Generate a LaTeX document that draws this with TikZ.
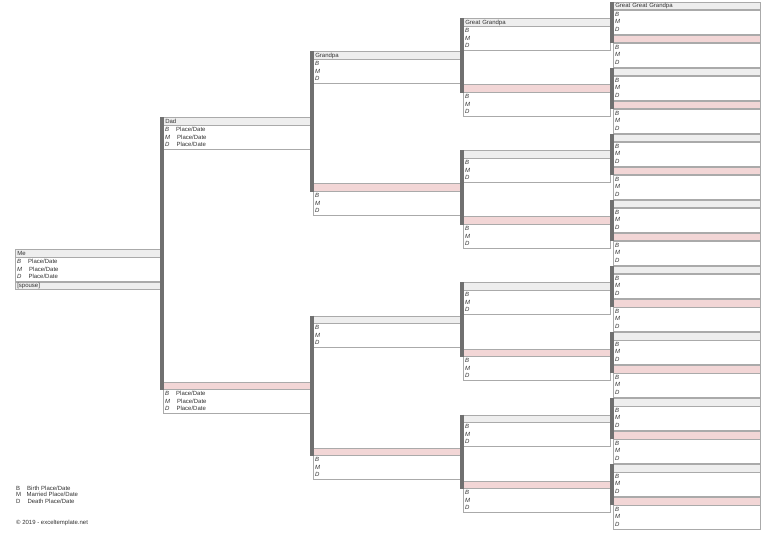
\documentclass[tikz,border=0pt]{standalone}
\usepackage{fontspec}
\setmainfont{Liberation Sans}
\definecolor{hgray}{HTML}{EEEEEE}
\definecolor{hpink}{HTML}{F2D6D6}
\definecolor{bord}{HTML}{AAAAAA}
\definecolor{barc}{HTML}{707070}
\definecolor{txt}{HTML}{333333}
\tikzset{
  hdr/.style={draw=bord, line width=0.6pt, anchor=north west, minimum width=147pt, text width=143pt, align=left, inner xsep=2pt, inner ysep=0.5pt, text height=5pt, text depth=1.5pt, font=\fontsize{6}{6}\selectfont, text=txt},
  databox/.style={draw=bord, line width=0.6pt},
  lab/.style={anchor=west, inner sep=0pt, font=\fontsize{6}{6}\selectfont, text=txt},
  pbar/.style={draw=barc, line width=4pt},
}
\newcommand{\pbox}[6]{%
  \node[hdr, fill=#4] (#1) at (#2,#3) {#5};
  \draw[databox] (#2,#3+8) rectangle (#2+147,#3+32);
  \node[lab] (#1b) at (#2+2,#3+12) {\textit{B}#6};
  \node[lab] (#1m) at (#2+2,#3+19.5) {\textit{M}#6};
  \node[lab] (#1d) at (#2+2,#3+27) {\textit{D}#6};
}
\newcommand{\pd}{\hspace{7pt}Place/Date}
\begin{document}
\begin{tikzpicture}[x=1pt,y=-1pt]
\useasboundingbox (0,0) rectangle (768,537);
% column 0
\pbox{p1}{15}{249.5}{hgray}{Me}{\pd}
\node[hdr, fill=hgray, minimum width=145pt] (sp) at (15,282) {[spouse]};
% column 1
\pbox{p2}{163}{117.5}{hgray}{Dad}{\pd}
\pbox{p3}{163}{381.5}{hpink}{}{\pd}
% column 2
\pbox{p4}{313}{51.5}{hgray}{Grandpa}{}
\pbox{p5}{313}{183.5}{hpink}{}{}
\pbox{p6}{313}{315.5}{hgray}{}{}
\pbox{p7}{313}{447.5}{hpink}{}{}
% column 3
\foreach \k in {0,...,3}{
  \pgfmathsetmacro{\yf}{18.5+132*\k}
  \pgfmathsetmacro{\ym}{18.5+132*\k+66}
  \ifnum\k=0
    \pbox{q\k f}{463}{\yf}{hgray}{Great Grandpa}{}
  \else
    \pbox{q\k f}{463}{\yf}{hgray}{}{}
  \fi
  \pbox{q\k m}{463}{\ym}{hpink}{}{}
}
% column 4
\foreach \k in {0,...,7}{
  \pgfmathsetmacro{\yf}{2+66*\k}
  \pgfmathsetmacro{\ym}{2+66*\k+33}
  \ifnum\k=0
    \pbox{r\k f}{613}{\yf}{hgray}{Great Great Grandpa}{}
  \else
    \pbox{r\k f}{613}{\yf}{hgray}{}{}
  \fi
  \pbox{r\k m}{613}{\ym}{hpink}{}{}
}
% bars
\draw[pbar] ([xshift=-1pt]p2.north west) -- ([xshift=-1pt]p3.south west);
\draw[pbar] ([xshift=-1pt]p4.north west) -- ([xshift=-1pt]p5.south west);
\draw[pbar] ([xshift=-1pt]p6.north west) -- ([xshift=-1pt]p7.south west);
\foreach \k in {0,...,3}{
  \draw[pbar] ([xshift=-1pt]q\k f.north west) -- ([xshift=-1pt]q\k m.south west);
}
\foreach \k in {0,...,7}{
  \draw[pbar] ([xshift=-1pt]r\k f.north west) -- ([xshift=-1pt]r\k m.south west);
}
% legend
\node[lab] (l1) at (16,488) {B\hspace{7pt}Birth Place/Date};
\node[lab] (l2) at (16,494.5) {M\hspace{5.5pt}Married Place/Date};
\node[lab] (l3) at (16,501) {D\hspace{7pt}Death Place/Date};
\node[lab] (cp) at (16,523) {© 2019 - exceltemplate.net};
\end{tikzpicture}
\end{document}
